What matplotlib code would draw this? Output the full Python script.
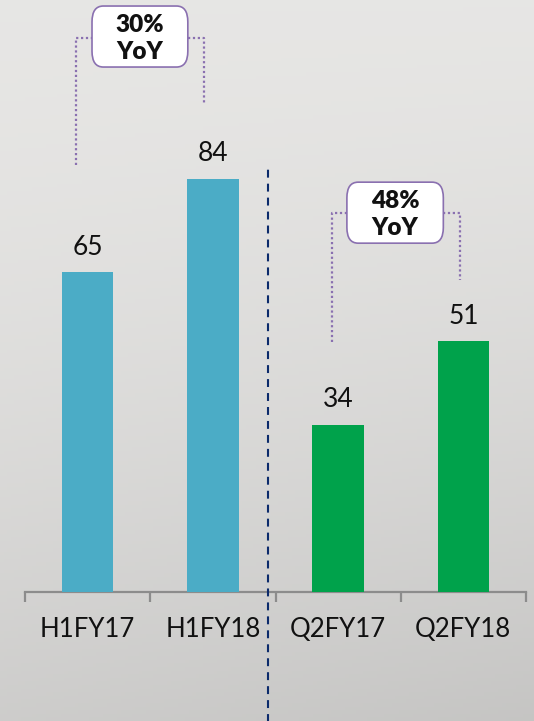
import numpy as np
import matplotlib
matplotlib.use("Agg")
import matplotlib.pyplot as plt
from matplotlib.patches import FancyBboxPatch

categories = ["H1FY17", "H1FY18", "Q2FY17", "Q2FY18"]
values = [65, 84, 34, 51]
bar_colors = ["#4BACC6", "#4BACC6", "#00A24B", "#00A24B"]

# growth call-outs: (label, left bar, right bar)
callouts = [("30%\nYoY", 0, 1), ("48%\nYoY", 2, 3)]

plt.rcParams["font.family"] = ["Lato", "DejaVu Sans"]

W, H = 534, 721
fig = plt.figure(figsize=(W / 100, H / 100), dpi=100)

# soft grey background, lighter at the top
bg = fig.add_axes([0, 0, 1, 1], zorder=-10)
yy, xx = np.mgrid[0:1:200j, 0:1:150j]
shade = 0.905 - 0.1 * yy ** 1.6 - 0.03 * xx * yy
bg.imshow(np.dstack([shade, shade * 0.997, shade * 0.99]), aspect="auto",
          extent=(0, 1, 0, 1), origin="upper")
bg.axis("off")

base_px = 592
px_per_unit = 4.92
left_px, right_px = 25, 526
ax = fig.add_axes([left_px / W, (H - base_px) / H, (right_px - left_px) / W, base_px / H])
ax.set_facecolor("none")
ax.set_xlim(-0.5, len(categories) - 0.5)
ax.set_ylim(0, base_px / px_per_unit)

x = np.arange(len(categories))
bars = ax.bar(x, values, width=0.41, color=bar_colors, zorder=3)

for xi, v in zip(x, values):
    ax.annotate(str(v), (xi, v), xytext=(0, 9), textcoords="offset points",
                ha="center", va="bottom", fontsize=19, color="#111111")

for s in ["top", "right", "left"]:
    ax.spines[s].set_visible(False)
ax.spines["bottom"].set_color("#8c8c8c")
ax.spines["bottom"].set_linewidth(1.6)
ax.set_yticks([])
ax.set_xticks(x)
ax.set_xticklabels(categories, fontsize=18.5, color="#111111")
ax.tick_params(axis="x", which="major", length=0, pad=18)
ax.set_xticks(np.arange(-0.5, len(categories)), minor=True)
ax.tick_params(axis="x", which="minor", length=7.2, width=1.6, color="#8c8c8c")

# divider between half-year and quarter
ax.plot([1.44, 1.44], [-27, 86], color="#0B2A6B", lw=1.5,
        linestyle=(0, (3.8, 2.9)), clip_on=False, zorder=4)

purple = "#8A70B0"
# (box x0, box x1, box y0, box y1, link y, left x, left stop, right x, right stop)
geom = [(0.035, 0.80, 106.7, 119.1, 112.6, -0.093, 86.8, 0.93, 99.0),
        (2.07, 2.84, 70.9, 83.3, 77.0, 1.95, 50.8, 2.97, 63.4)]
for (label, i, j), g in zip(callouts, geom):
    bx0, bx1, by0, by1, ly, lx, lstop, rx, rstop = g
    ax.plot([lx, lx, bx0], [lstop, ly, ly], color=purple, lw=1.6,
            linestyle=(0, (1, 1.2)), clip_on=False, zorder=4)
    ax.plot([bx1, rx, rx], [ly, ly, rstop], color=purple, lw=1.6,
            linestyle=(0, (1, 1.2)), clip_on=False, zorder=4)
    box = FancyBboxPatch((bx0, by0), bx1 - bx0, by1 - by0,
                         boxstyle="round,pad=0,rounding_size=0.09",
                         mutation_aspect=(by1 - by0) / (bx1 - bx0) * 2.2,
                         facecolor="white", edgecolor=purple, lw=1.2,
                         clip_on=False, zorder=5)
    ax.add_patch(box)
    ax.text((bx0 + bx1) / 2, (by0 + by1) / 2 - 0.4, label, ha="center", va="center",
            fontsize=17.5, fontweight="heavy", linespacing=1.25, color="#111111",
            zorder=6)

fig.savefig("out.png", dpi=100)
